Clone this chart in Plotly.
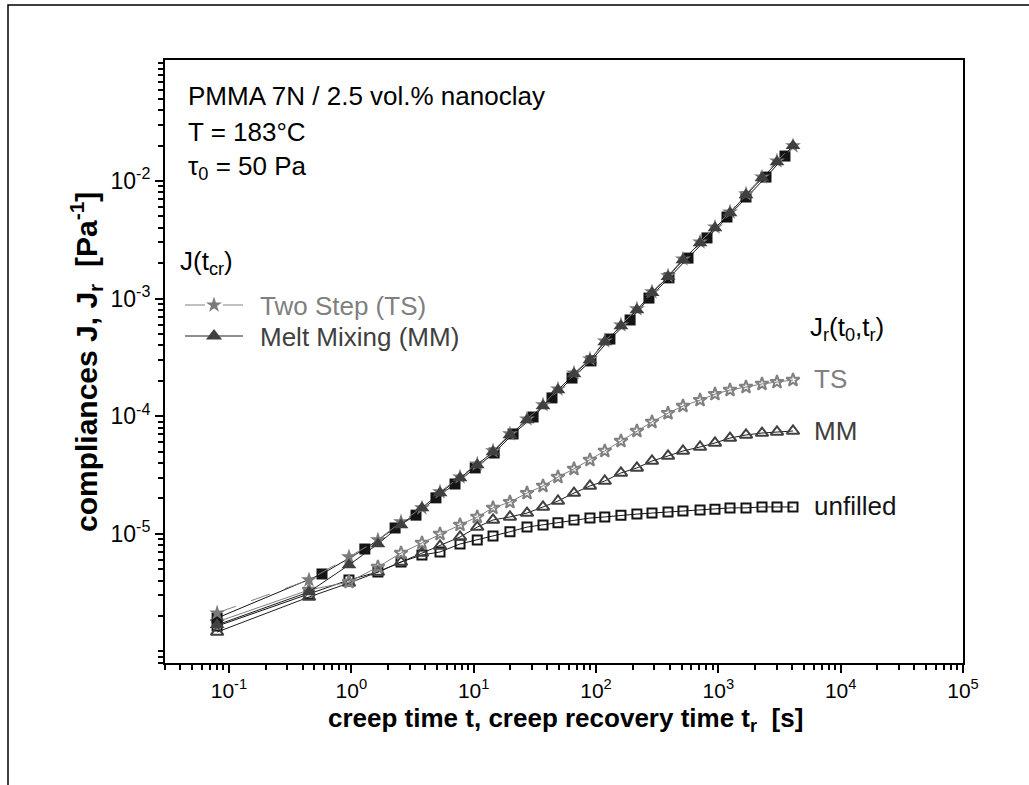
import math
import plotly.graph_objects as go

# ---- measured data -------------------------------------------------------
# time points of the TS / MM creep runs and of all recovery runs (s)
t_common = [0.080, 0.451, 0.957, 1.65, 2.55, 3.78, 5.31, 7.74, 10.7, 14.4,
            19.8, 27.3, 36.9, 48.9, 66.1, 89.3, 118, 160, 216, 287,
            388, 514, 709, 939, 1246, 1684, 2275, 3017, 4077]

# time points of the unfilled creep run (s)
t_unfilled = [0.080, 0.576, 1.29, 2.28, 3.38, 4.92, 7.04, 10.3, 14.7, 21.0,
              30.6, 43.7, 63.7, 91.0, 130, 190, 271, 395, 565, 808,
              1177, 1684, 2453, 3506]

# creep compliance J(t) [1/Pa]
J_unfilled = [1.92e-6, 4.55e-6, 7.42e-6, 1.12e-5, 1.44e-5, 2.02e-5, 2.65e-5,
              3.63e-5, 4.86e-5, 7.06e-5, 9.84e-5, 1.43e-4, 2.11e-4, 2.95e-4,
              4.53e-4, 6.58e-4, 1.01e-3, 1.50e-3, 2.21e-3, 3.28e-3, 4.94e-3,
              7.31e-3, 1.08e-2, 1.63e-2]
J_TS = [2.12e-6, 4.05e-6, 6.35e-6, 8.86e-6, 1.26e-5, 1.66e-5, 2.27e-5, 3.04e-5,
        3.92e-5, 5.06e-5, 7.06e-5, 9.46e-5, 1.25e-4, 1.70e-4, 2.33e-4, 3.06e-4,
        4.36e-4, 5.96e-4, 8.16e-4, 1.14e-3, 1.56e-3, 2.17e-3, 3.03e-3, 4.06e-3,
        5.45e-3, 7.75e-3, 1.08e-2, 1.48e-2, 1.99e-2]
J_MM = [1.68e-6, 3.20e-6, 5.43e-6, 8.19e-6, 1.19e-5, 1.66e-5, 2.22e-5, 2.98e-5,
        3.85e-5, 4.96e-5, 6.92e-5, 9.28e-5, 1.22e-4, 1.67e-4, 2.28e-4, 3.01e-4,
        4.27e-4, 5.85e-4, 8.00e-4, 1.12e-3, 1.53e-3, 2.13e-3, 2.97e-3, 3.98e-3,
        5.34e-3, 7.60e-3, 1.06e-2, 1.45e-2, 1.99e-2]

# recoverable compliance Jr(t0, tr) [1/Pa]
Jr_TS = [1.78e-6, 3.33e-6, 3.89e-6, 5.22e-6, 6.86e-6, 8.35e-6, 9.96e-6, 1.19e-5,
         1.39e-5, 1.66e-5, 1.86e-5, 2.22e-5, 2.55e-5, 3.04e-5, 3.56e-5, 4.24e-5,
         5.06e-5, 6.15e-5, 7.48e-5, 8.93e-5, 1.06e-4, 1.22e-4, 1.37e-4, 1.54e-4,
         1.67e-4, 1.77e-4, 1.88e-4, 1.95e-4, 2.03e-4]
Jr_MM = [1.46e-6, 2.90e-6, 3.81e-6, 4.73e-6, 5.75e-6, 6.86e-6, 7.87e-6, 9.39e-6,
         1.14e-5, 1.31e-5, 1.39e-5, 1.50e-5, 1.69e-5, 1.90e-5, 2.22e-5, 2.55e-5,
         2.81e-5, 3.29e-5, 3.63e-5, 4.16e-5, 4.59e-5, 5.06e-5, 5.47e-5, 5.92e-5,
         6.52e-5, 6.92e-5, 7.19e-5, 7.34e-5, 7.48e-5]
Jr_unfilled = [1.64e-6, 3.08e-6, 4.05e-6, 4.73e-6, 5.75e-6, 6.60e-6, 7.00e-6,
               8.19e-6, 8.86e-6, 9.57e-6, 1.04e-5, 1.14e-5, 1.19e-5, 1.24e-5,
               1.31e-5, 1.36e-5, 1.39e-5, 1.44e-5, 1.47e-5, 1.50e-5, 1.53e-5,
               1.56e-5, 1.59e-5, 1.62e-5, 1.66e-5, 1.66e-5, 1.69e-5, 1.69e-5,
               1.69e-5]

# axis ticks
x_major = [1e-1, 1e0, 1e1, 1e2, 1e3, 1e4, 1e5]
x_labels = ["10<sup>-1</sup>", "10<sup>0</sup>", "10<sup>1</sup>", "10<sup>2</sup>",
            "10<sup>3</sup>", "10<sup>4</sup>", "10<sup>5</sup>"]
y_major = [1e-5, 1e-4, 1e-3, 1e-2]
y_labels = ["10<sup>-5</sup>", "10<sup>-4</sup>", "10<sup>-3</sup>", "10<sup>-2</sup>"]

# ---- layout geometry -----------------------------------------------------
W, H = 1029, 785
L, R, T, B = 165, 66, 60, 122
PW, PH = W - L - R, H - T - B


def px(x):
    return (x - L) / PW


def py(y):
    return (H - B - y) / PH


FONT = "Liberation Sans, Arial, sans-serif"

GRAY_TS = "#808080"
GRAY_MM = "#404040"
BLACK = "#141414"
LINE_DARK = "#1e1e1e"

fig = go.Figure()

# recovery curves (open symbols)
fig.add_trace(go.Scatter(x=t_common, y=Jr_unfilled, mode="lines+markers",
                         line=dict(color=BLACK, width=1),
                         marker=dict(symbol="square-open", size=9, color=BLACK,
                                     line=dict(color=BLACK, width=2))))
fig.add_trace(go.Scatter(x=t_common, y=Jr_MM, mode="lines+markers",
                         line=dict(color=LINE_DARK, width=1),
                         marker=dict(symbol="triangle-up-open", size=11, color=GRAY_MM,
                                     line=dict(color=GRAY_MM, width=2))))
fig.add_trace(go.Scatter(x=t_common, y=Jr_TS, mode="lines+markers",
                         line=dict(color=GRAY_TS, width=1),
                         marker=dict(symbol="star-open", size=10, color=GRAY_TS,
                                     line=dict(color=GRAY_TS, width=2))))

# creep curves (filled symbols)
fig.add_trace(go.Scatter(x=t_unfilled, y=J_unfilled, mode="lines+markers",
                         line=dict(color=BLACK, width=1),
                         marker=dict(symbol="square", size=11, color=BLACK,
                                     line=dict(width=0))))
fig.add_trace(go.Scatter(x=t_common, y=J_TS, mode="lines+markers",
                         line=dict(color=GRAY_TS, width=1, dash="20px,16px"),
                         marker=dict(symbol="star", size=12, color="#7a7a7a",
                                     line=dict(width=0))))
fig.add_trace(go.Scatter(x=t_common, y=J_MM, mode="lines+markers",
                         line=dict(color=LINE_DARK, width=1),
                         marker=dict(symbol="triangle-up", size=13, color=GRAY_MM,
                                     line=dict(width=0))))

# legend glyphs for the creep curves, drawn on an overlay frame in plot fractions
lg_x = [px(185), px(214), px(243)]
fig.add_trace(go.Scatter(x=lg_x, y=[py(305)] * 3, xaxis="x2", yaxis="y2",
                         mode="lines", line=dict(color=GRAY_TS, width=1, dash="20px,18px")))
fig.add_trace(go.Scatter(x=[lg_x[1]], y=[py(305)], xaxis="x2", yaxis="y2",
                         mode="markers", marker=dict(symbol="star", size=12, color="#7a7a7a")))
fig.add_trace(go.Scatter(x=lg_x, y=[py(336)] * 3, xaxis="x2", yaxis="y2",
                         mode="lines", line=dict(color=LINE_DARK, width=1)))
fig.add_trace(go.Scatter(x=[lg_x[1]], y=[py(336)], xaxis="x2", yaxis="y2",
                         mode="markers", marker=dict(symbol="triangle-up", size=14,
                                                     color=GRAY_MM)))

x_minor = [m * 10 ** e for e in range(-2, 5) for m in range(2, 10)
           if 0.03 <= m * 10 ** e <= 1e5]
y_minor = [m * 10 ** e for e in range(-7, 0) for m in range(1, 10)
           if 8e-7 <= m * 10 ** e <= 0.107 and m * 10 ** e not in y_major]

axis_common = dict(showline=True, linewidth=2, linecolor="black", mirror=True,
                   showgrid=False, zeroline=False, ticks="outside",
                   ticklen=8, tickwidth=2, tickcolor="black")

fig.update_layout(
    width=W, height=H,
    margin=dict(l=L, r=R, t=T, b=B, autoexpand=False),
    paper_bgcolor="white", plot_bgcolor="white",
    showlegend=False,
    xaxis=dict(type="log", range=[math.log10(0.03), 5],
               tickmode="array", tickvals=x_major, ticktext=x_labels,
               tickfont=dict(family=FONT, size=21, color="black"),
               minor=dict(tickmode="array", tickvals=x_minor, ticks="outside",
                          ticklen=5, tickwidth=1.5, tickcolor="black"),
               **axis_common),
    yaxis=dict(type="log", range=[-6.099, -0.971],
               tickmode="array", tickvals=y_major, ticktext=y_labels,
               tickfont=dict(family=FONT, size=23, color="black"),
               minor=dict(tickmode="array", tickvals=y_minor, ticks="outside",
                          ticklen=5, tickwidth=1.5, tickcolor="black"),
               **axis_common),
    xaxis2=dict(overlaying="x", range=[0, 1], visible=False),
    yaxis2=dict(overlaying="y", range=[0, 1], visible=False),
)

ann = []


def text(x, y, s, size=26, color="black", anchor="left", **kw):
    ann.append(dict(x=px(x), y=py(y), xref="paper", yref="paper", text=s,
                    showarrow=False, xanchor=anchor, yanchor="middle",
                    font=dict(family=FONT, size=size, color=color), **kw))


text(186, 96, "PMMA 7N / 2.5 vol.% nanoclay")
text(186, 132, "T = 183°C")
text(186, 168, "τ<sub>0</sub> = 50 Pa")
text(178, 262, "J(t<sub>cr</sub>)")
text(258, 306, "Two Step (TS)", color=GRAY_TS)
text(258, 337, "Melt Mixing (MM)", color=GRAY_MM)
text(808, 328, "J<sub>r</sub>(t<sub>0</sub>,t<sub>r</sub>)")
text(812, 379, "TS", color=GRAY_TS)
text(812, 431, "MM", color=GRAY_MM)
text(812, 506, "unfilled", color=BLACK)

# axis titles
text(565, 720, "<b>creep time t, creep recovery time t<sub>r</sub>  [s]</b>",
     size=26, anchor="center")
text(86, 362, "<b>compliances J, J<sub>r</sub>  [Pa<sup>-1</sup>]</b>",
     size=30, anchor="center", textangle=-90)

fig.update_layout(annotations=ann)

# outer frame (its right and bottom edges fall outside the page)
fig.add_shape(type="rect", xref="paper", yref="paper",
              x0=px(8), y0=py(820), x1=px(1060), y1=py(5),
              line=dict(color="black", width=1.5), layer="below")

fig.write_html("out.html")
